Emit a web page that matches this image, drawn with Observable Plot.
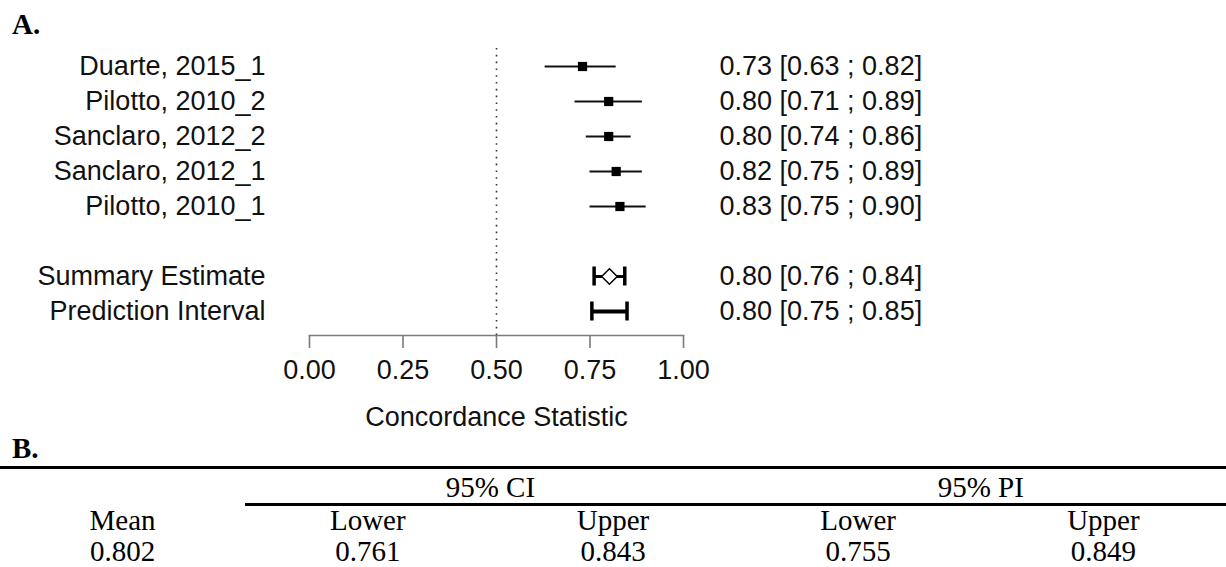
<!DOCTYPE html>
<html><head><meta charset="utf-8">
<script src="https://cdn.jsdelivr.net/npm/d3@7"></script>
<script src="https://cdn.jsdelivr.net/npm/@observablehq/plot@0.6"></script>
<style>
html,body{margin:0;padding:0;background:#fff;}
#wrap{position:relative;width:1226px;height:567px;overflow:hidden;background:#fff;}
#plot{position:absolute;left:0;top:0;}
.panel{position:absolute;font-family:"Liberation Serif","Times New Roman",serif;font-weight:bold;font-size:29px;color:#000;line-height:1;transform:translateY(-50%);}
.tb{position:absolute;font-family:"Liberation Serif","Times New Roman",serif;font-size:29px;color:#000;transform:translate(-50%,-50%);white-space:nowrap;line-height:1;}
.hr{position:absolute;background:#000;height:3px;}
</style></head><body>
<div id="wrap">
  <div id="plot"></div>
</div>
<script>
// ---- Panel A data ----
const studies = ["Duarte, 2015_1", "Pilotto, 2010_2", "Sanclaro, 2012_2", "Sanclaro, 2012_1", "Pilotto, 2010_1"];
const estimates = [0.73, 0.80, 0.80, 0.82, 0.83];
const lowers = [0.63, 0.71, 0.74, 0.75, 0.75];
const uppers = [0.82, 0.89, 0.86, 0.89, 0.90];
const studyText = ["0.73 [0.63 ; 0.82]", "0.80 [0.71 ; 0.89]", "0.80 [0.74 ; 0.86]", "0.82 [0.75 ; 0.89]", "0.83 [0.75 ; 0.90]"];
const summaryLabels = ["Summary Estimate", "Prediction Interval"];
const summaryEst = [0.802, 0.802];
const summaryLower = [0.761, 0.755];
const summaryUpper = [0.843, 0.849];
const summaryText = ["0.80 [0.76 ; 0.84]", "0.80 [0.75 ; 0.85]"];
const xTicks = [0, 0.25, 0.5, 0.75, 1];
const refLine = [0.5];
const axisTitle = "Concordance Statistic";

// ---- Panel B data ----
const spanners = ["95% CI", "95% PI"];
const tableHeaders = ["Mean", "Lower", "Upper", "Lower", "Upper"];
const tableValues = ["0.802", "0.761", "0.843", "0.755", "0.849"];

const studyRows = studies.map((s, i) => ({label: s, est: estimates[i], lo: lowers[i], hi: uppers[i], txt: studyText[i]}));
const sumRows = summaryLabels.map((s, i) => ({label: s, est: summaryEst[i], lo: summaryLower[i], hi: summaryUpper[i], txt: summaryText[i]}));
const allRows = [...studyRows, ...sumRows];
const yDomain = [...studies, " ", ...summaryLabels];
const caps = sumRows.flatMap(r => [{label: r.label, x: r.lo}, {label: r.label, x: r.hi}]);

const chart = Plot.plot({
  width: 1226,
  height: 440,
  marginLeft: 309,
  marginRight: 543,
  marginTop: 48,
  marginBottom: 105,
  x: {domain: [0, 1]},
  y: {type: "point", domain: yDomain, range: [63, 313], padding: 0, axis: null},
  style: {fontFamily: "'Liberation Sans', Arial, sans-serif", fontSize: "27px", color: "#000", background: "white", overflow: "visible"},
  marks: [
    Plot.ruleX(refLine, {stroke: "#333", strokeWidth: 1.6, strokeDasharray: "1.6,5.2"}),
    Plot.frame({anchor: "bottom", stroke: "#7a7a7a", strokeWidth: 1.6}),
    Plot.axisX({ticks: xTicks, tickFormat: d => d.toFixed(2), tickSize: 13, tickPadding: 11, stroke: "#7a7a7a", strokeWidth: 1.6, fill: "#111", label: null}),
    Plot.text([axisTitle], {frameAnchor: "bottom", lineAnchor: "middle", dy: 82, fill: "#111"}),
    // study CIs
    Plot.ruleY(studyRows, {y: "label", x1: "lo", x2: "hi", stroke: "#111", strokeWidth: 2}),
    Plot.dot(studyRows, {x: "est", y: "label", symbol: "square", r: 5.2, fill: "#000", stroke: null}),
    // summary & prediction interval
    Plot.ruleY(sumRows.slice(0, 1), {y: "label", x1: "lo", x2: "hi", stroke: "#000", strokeWidth: 3}),
    Plot.ruleY(sumRows.slice(1), {y: "label", x1: "lo", x2: "hi", stroke: "#000", strokeWidth: 4}),
    Plot.ruleX(caps, {x: "x", y1: "label", y2: "label", insetTop: -9.5, insetBottom: -9.5, stroke: "#000", strokeWidth: 3.5}),
    Plot.dot(sumRows.slice(0, 1), {x: "est", y: "label", symbol: "diamond2", r: 7, fill: "white", stroke: "#000", strokeWidth: 1.5}),
    // labels and annotations
    Plot.text(allRows, {x: () => 0, y: "label", text: "label", dx: -44, textAnchor: "end", fill: "#111"}),
    Plot.text(allRows, {x: () => 1, y: "label", text: "txt", dx: 36, textAnchor: "start", fill: "#111"})
  ]
});
document.getElementById("plot").appendChild(chart);

// Panel labels and table
const wrap = document.getElementById("wrap");
function add(cls, text, style) {
  const d = document.createElement("div");
  d.className = cls;
  if (text != null) d.textContent = text;
  Object.assign(d.style, style);
  wrap.appendChild(d);
  return d;
}
add("panel", "A.", {left: "12px", top: "24px"});
add("panel", "B.", {left: "12px", top: "448px"});
add("hr", null, {left: "0px", top: "466px", width: "1226px"});
add("hr", null, {left: "245px", top: "503px", width: "981px"});
const colW = 1226 / tableHeaders.length;
const colX = tableHeaders.map((_, i) => colW * (i + 0.5));
spanners.forEach((s, i) => add("tb", s, {left: ((colX[1 + 2 * i] + colX[2 + 2 * i]) / 2) + "px", top: "487px"}));
tableHeaders.forEach((h, i) => add("tb", h, {left: colX[i] + "px", top: "520px"}));
tableValues.forEach((v, i) => add("tb", v, {left: colX[i] + "px", top: "551px"}));
</script>
</body></html>
